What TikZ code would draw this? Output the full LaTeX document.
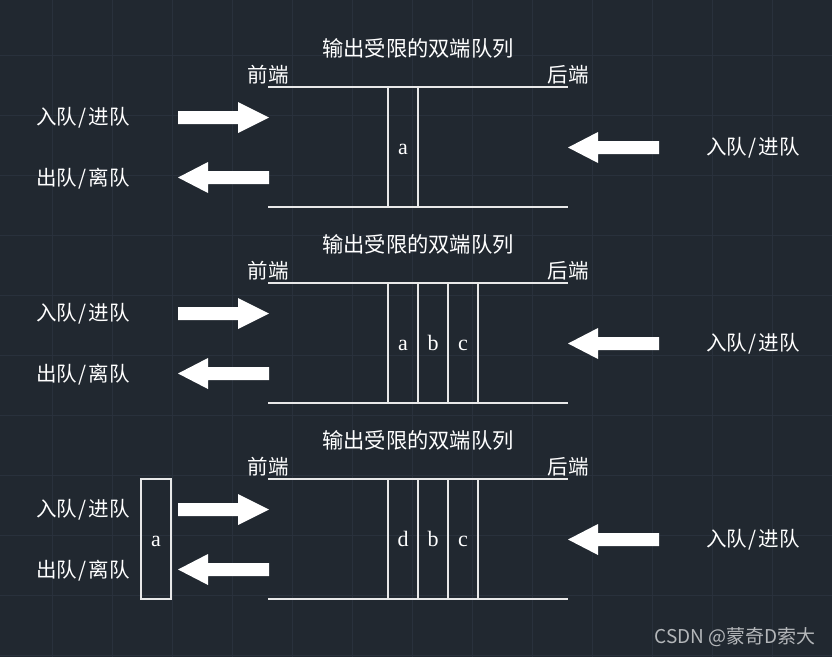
\documentclass[tikz,border=0pt]{standalone}
\usepackage{fontspec}
\newfontfamily\cjk{Noto Sans CJK SC}
\newfontfamily\lat{Liberation Serif}
\definecolor{bg}{HTML}{212830}
\definecolor{gridc}{HTML}{29313C}
\definecolor{ln}{HTML}{E8E8E8}
\definecolor{wm}{HTML}{B4B7BA}
\begin{document}
\begin{tikzpicture}[x=1pt,y=-1pt,
  lbl/.style={font=\cjk\fontsize{20.5}{21}\selectfont, text=white, inner sep=0pt},
  ttl/.style={font=\cjk\fontsize{21.3}{22}\selectfont, text=white, inner sep=0pt},
  cell/.style={draw=ln, line width=1.2pt, minimum width=30pt, minimum height=120pt, inner sep=0pt, text height=15pt, text depth=0pt, font=\lat\fontsize{22}{22}\selectfont, text=white},
  rail/.style={draw=ln, line width=1.2pt},
  arr/.style={fill=white}]
\fill[bg] (0,0) rectangle (832,657);
\useasboundingbox (0,0) rectangle (832,657);
\foreach \x in {52,112,...,832} \draw[gridc, line width=1pt] (\x,0) -- (\x,657);
\foreach \y in {55,115,...,655} \draw[gridc, line width=1pt] (0,\y) -- (832,\y);

% panel 1
\begin{scope}[shift={(0,0)}, name prefix=p1-]
  \node[ttl] (title) at (418,48) {输出受限的双端队列};
  \node[lbl] (front) at (268,74.5) {前端};
  \node[lbl] (rear) at (568,74.5) {后端};
  \coordinate (tl) at (268,87); \coordinate (tr) at (568,87);
  \coordinate (bl) at (268,207); \coordinate (br) at (568,207);
  \draw[rail] (tl) -- (tr); \draw[rail] (bl) -- (br);
  \node[cell] (a) at (403,147) {a};
  \node[lbl] (inL) at (83,117.5) {入队\kern1.5pt/\kern1.5pt进队};
  \node[lbl] (outL) at (83,178.5) {出队\kern1.5pt/\kern1.5pt离队};
  \node[lbl] (inR) at (753,147.5) {入队\kern1.5pt/\kern1.5pt进队};
  \fill[arr] (178,111) -- (238,111) -- (238,102) -- (269,117.5) -- (238,133) -- (238,124) -- (178,124) -- cycle;
  \fill[arr] (269,171) -- (208,171) -- (208,162) -- (178,177.5) -- (208,193) -- (208,184) -- (269,184) -- cycle;
  \fill[arr] (659,141) -- (598,141) -- (598,132) -- (568,147.5) -- (598,163) -- (598,154) -- (659,154) -- cycle;
\end{scope}

% panel 2
\begin{scope}[shift={(0,196)}, name prefix=p2-]
  \node[ttl] (title) at (418,48) {输出受限的双端队列};
  \node[lbl] (front) at (268,74.5) {前端};
  \node[lbl] (rear) at (568,74.5) {后端};
  \coordinate (tl) at (268,87); \coordinate (tr) at (568,87);
  \coordinate (bl) at (268,207); \coordinate (br) at (568,207);
  \draw[rail] (tl) -- (tr); \draw[rail] (bl) -- (br);
  \node[cell] (a) at (403,147) {a};
  \node[cell] (b) at (433,147) {b};
  \node[cell] (c) at (463,147) {c};
  \node[lbl] (inL) at (83,117.5) {入队\kern1.5pt/\kern1.5pt进队};
  \node[lbl] (outL) at (83,178.5) {出队\kern1.5pt/\kern1.5pt离队};
  \node[lbl] (inR) at (753,147.5) {入队\kern1.5pt/\kern1.5pt进队};
  \fill[arr] (178,111) -- (238,111) -- (238,102) -- (269,117.5) -- (238,133) -- (238,124) -- (178,124) -- cycle;
  \fill[arr] (269,171) -- (208,171) -- (208,162) -- (178,177.5) -- (208,193) -- (208,184) -- (269,184) -- cycle;
  \fill[arr] (659,141) -- (598,141) -- (598,132) -- (568,147.5) -- (598,163) -- (598,154) -- (659,154) -- cycle;
\end{scope}

% panel 3
\begin{scope}[shift={(0,392)}, name prefix=p3-]
  \node[ttl] (title) at (418,48) {输出受限的双端队列};
  \node[lbl] (front) at (268,74.5) {前端};
  \node[lbl] (rear) at (568,74.5) {后端};
  \coordinate (tl) at (268,87); \coordinate (tr) at (568,87);
  \coordinate (bl) at (268,207); \coordinate (br) at (568,207);
  \draw[rail] (tl) -- (tr); \draw[rail] (bl) -- (br);
  \node[cell] (d) at (403,147) {d};
  \node[cell] (b) at (433,147) {b};
  \node[cell] (c) at (463,147) {c};
  \node[cell] (out) at (156,147) {a};
  \node[lbl] (inL) at (83,117.5) {入队\kern1.5pt/\kern1.5pt进队};
  \node[lbl] (outL) at (83,178.5) {出队\kern1.5pt/\kern1.5pt离队};
  \node[lbl] (inR) at (753,147.5) {入队\kern1.5pt/\kern1.5pt进队};
  \fill[arr] (178,111) -- (238,111) -- (238,102) -- (269,117.5) -- (238,133) -- (238,124) -- (178,124) -- cycle;
  \fill[arr] (269,171) -- (208,171) -- (208,162) -- (178,177.5) -- (208,193) -- (208,184) -- (269,184) -- cycle;
  \fill[arr] (659,141) -- (598,141) -- (598,132) -- (568,147.5) -- (598,163) -- (598,154) -- (659,154) -- cycle;
\end{scope}

\node[font=\cjk\fontsize{19}{19}\selectfont, text=wm, anchor=east, inner sep=0pt] (wm) at (816,637) {CSDN @蒙奇D索大};
\end{tikzpicture}
\end{document}
